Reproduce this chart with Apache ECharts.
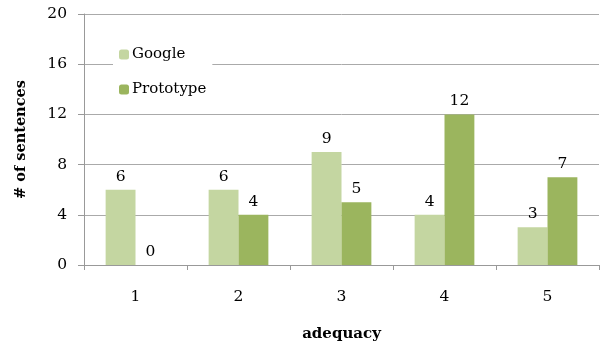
<!DOCTYPE html>
<html><head><meta charset="utf-8">
<script src="https://cdn.jsdelivr.net/npm/echarts@6/dist/echarts.min.js"></script>
<style>html,body{margin:0;padding:0;background:#fff}#c{width:600px;height:347px}</style>
</head><body><div id="c"></div>
<script>
const categories = ['1','2','3','4','5'];
const google = [6, 6, 9, 4, 3];
const prototype = [0, 4, 5, 12, 7];
const yTicks = [0, 4, 8, 12, 16, 20];

const FONT = 'DejaVu Serif';
const chart = echarts.init(document.getElementById('c'), null, {renderer: 'canvas'});
const lbl = {show: true, position: 'top', color: '#000', fontFamily: FONT, fontSize: 15.5, distance: 5};
chart.setOption({
  animation: false,
  textStyle: {fontFamily: FONT},
  grid: {left: 84, right: 1, top: 14, bottom: 79},
  legend: {
    orient: 'vertical', left: 113, top: 39,
    itemWidth: 10, itemHeight: 10, itemGap: 20,
    backgroundColor: '#fff', padding: [8, 6, 8, 6],
    textStyle: {fontFamily: FONT, fontSize: 15, color: '#000', padding: [0,0,0,-2]},
    data: ['Google', 'Prototype']
  },
  xAxis: {
    type: 'category', data: categories,
    name: 'adequacy', nameLocation: 'middle', nameGap: 62,
    nameTextStyle: {fontFamily: FONT, fontWeight: 'bold', fontSize: 15, color: '#000'},
    axisLine: {lineStyle: {color: '#999'}},
    axisTick: {show: true, length: 5, lineStyle: {color: '#999'}},
    axisLabel: {fontFamily: FONT, fontSize: 15.5, color: '#000', margin: 24}
  },
  yAxis: {
    type: 'value', min: yTicks[0], max: yTicks[yTicks.length-1], interval: 4,
    name: '# of sentences', nameLocation: 'middle', nameGap: 55, nameRotate: 90,
    nameTextStyle: {fontFamily: FONT, fontWeight: 'bold', fontSize: 14.5, color: '#000'},
    axisLine: {show: true, lineStyle: {color: '#999'}},
    axisTick: {show: true, length: 6, lineStyle: {color: '#999'}},
    axisLabel: {fontFamily: FONT, fontSize: 15.5, color: '#000', margin: 17},
    splitLine: {lineStyle: {color: '#aaa', width: 1}}
  },
  series: [
    {name: 'Google', type: 'bar', data: google, barGap: '0%', barCategoryGap: '42%',
     itemStyle: {color: '#C4D6A1'}, label: lbl},
    {name: 'Prototype', type: 'bar', data: prototype, barGap: '0%', barCategoryGap: '42%',
     itemStyle: {color: '#9BB55E'}, label: lbl}
  ]
});
</script></body></html>
